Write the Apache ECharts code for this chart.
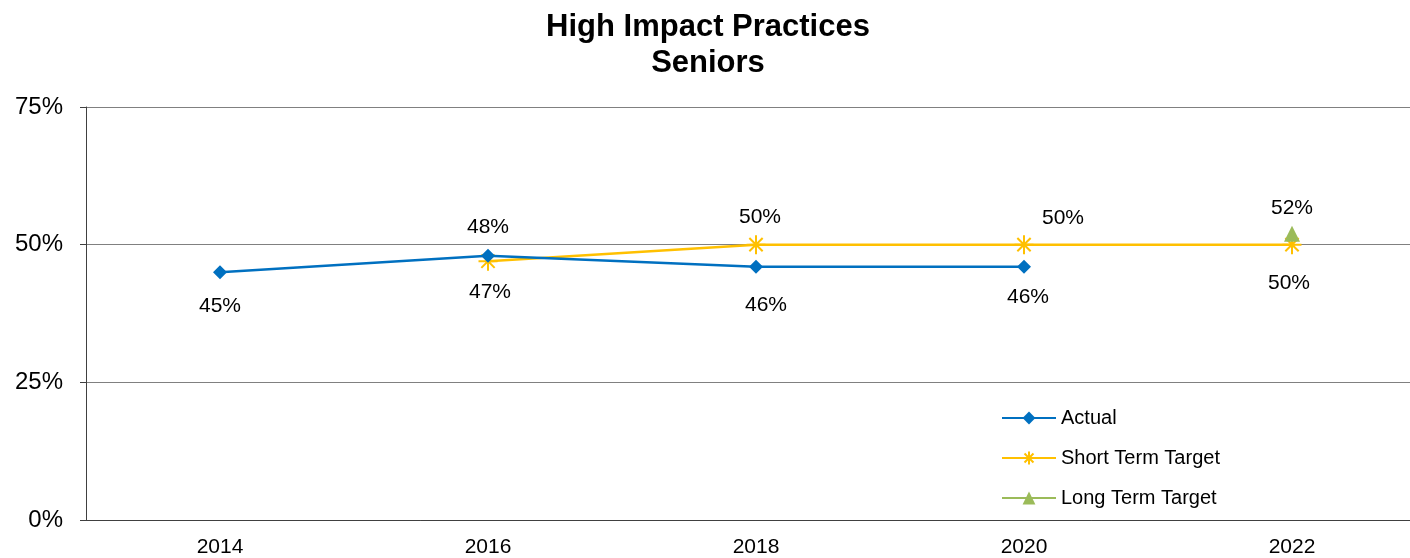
<!DOCTYPE html>
<html><head><meta charset="utf-8">
<script src="https://cdn.jsdelivr.net/npm/echarts@6/dist/echarts.min.js"></script>
<style>html,body{margin:0;padding:0;background:#fff;overflow:hidden;width:1410px;height:558px}#c{width:1426px;height:558px}</style>
</head><body><div id="c"></div>
<script>
const years = ['2014','2016','2018','2020','2022'];
const actual = [45, 48, 46, 46, null];
const shortTerm = [null, 47, 50, 50, 50];
const longTerm = [null, null, null, null, 52];
const yTicks = [0, 25, 50, 75];

const F = 'Arial, "Liberation Sans", sans-serif';
const star = 'path://M0,5L10,5M5,0L5,10M1.5,1.5L8.5,8.5M8.5,1.5L1.5,8.5';
function lab(v, dx, dy){ return {value:v, label:{show:true, offset:[dx,dy]}}; }
const actualOff = [[0,34],[0,-28],[10,39],[4,31],null];
const shortOff = [null,[2,31],[4,-27],[39,-26],[-3,39]];
function mk(arr, offs){ return arr.map((v,i)=> v==null?null: lab(v, offs[i][0], offs[i][1])); }

const chart = echarts.init(document.getElementById('c'));
chart.setOption({
  animation:false,
  title:{text:'High Impact Practices\nSeniors', left:703, textAlign:'center', top:4,
    textStyle:{fontFamily:F, fontSize:31, fontWeight:'bold', color:'#000', lineHeight:36}},
  grid:{left:86, right:0, top:107, bottom:37},
  legend:{orient:'vertical', left:996, top:403, itemWidth:54, itemHeight:16, itemGap:20,
    textStyle:{fontFamily:F, fontSize:20, color:'#000'},
    data:['Actual','Short Term Target','Long Term Target']},
  xAxis:{type:'category', data:years, boundaryGap:true,
    axisLine:{lineStyle:{color:'#404040'}},
    axisTick:{length:6, lineStyle:{color:'#404040'}},
    axisLabel:{fontFamily:F, fontSize:21, color:'#000', margin:17}},
  yAxis:{type:'value', min:0, max:75, interval:25,
    axisLine:{show:true, lineStyle:{color:'#404040'}},
    axisTick:{show:true, length:6, lineStyle:{color:'#404040'}},
    splitLine:{lineStyle:{color:'#808080', width:1}},
    axisLabel:{fontFamily:F, fontSize:24, color:'#000', margin:23, formatter:v=>yTicks.includes(v)? v+'%':''}},
  series:[
    {name:'Actual', type:'line', data:mk(actual, actualOff), symbol:'diamond', symbolSize:14,
     lineStyle:{color:'#0070C0', width:2.5}, itemStyle:{color:'#0070C0'},
     label:{show:true, position:'inside', formatter:p=>p.value+'%', fontFamily:F, fontSize:21, color:'#000'}, z:3},
    {name:'Short Term Target', type:'line', data:mk(shortTerm, shortOff), symbol:star, symbolSize:19,
     lineStyle:{color:'#FFC000', width:2.5}, itemStyle:{color:'#FFC000', borderColor:'#FFC000', borderWidth:2},
     label:{show:true, position:'inside', formatter:p=>p.value+'%', fontFamily:F, fontSize:21, color:'#000'}, z:2},
    {name:'Long Term Target', type:'line', data:longTerm.map(v=>v==null?null:lab(v,0,-25)), symbol:'triangle', symbolSize:16,
     lineStyle:{color:'#9BBB59', width:4}, itemStyle:{color:'#9BBB59'},
     label:{show:true, position:'inside', formatter:p=>p.value+'%', fontFamily:F, fontSize:21, color:'#000'}, z:4}
  ]
});
</script></body></html>
